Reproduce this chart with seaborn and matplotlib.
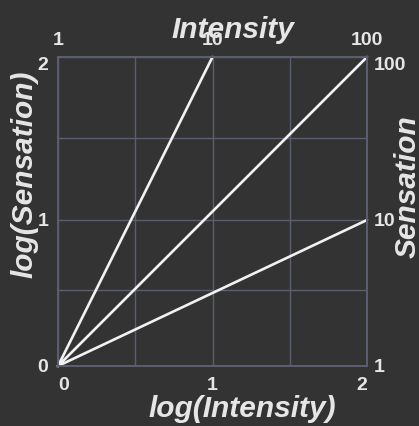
import numpy as np
import pandas as pd
import matplotlib
matplotlib.use("Agg")
import matplotlib.pyplot as plt
import seaborn as sns

# ---- data ----
series = ["steep", "proportional", "shallow"]
log_intensity_start = [0, 0, 0]
log_intensity_end = [1, 2, 2]
log_sensation_start = [0, 0, 0]
log_sensation_end = [2, 2, 1]

tick_values = [0, 1, 2]
log_tick_labels = ["0", "1", "2"]
intensity_labels = ["1", "10", "100"]
sensation_labels = ["1", "10", "100"]
grid_values = [0, 0.5, 1, 1.5, 2]

rows = []
for s, x0, x1, y0, y1 in zip(series, log_intensity_start, log_intensity_end,
                             log_sensation_start, log_sensation_end):
    rows.append({"series": s, "log_intensity": x0, "log_sensation": y0, "order": 0})
    rows.append({"series": s, "log_intensity": x1, "log_sensation": y1, "order": 1})
df = pd.DataFrame(rows)

# ---- the reference's vertical grid spacing is slightly uneven: piecewise scale ----
_gv = np.array(grid_values, dtype=float)
_gp = np.array([0, 76, 146, 228, 309], dtype=float)
_gv_ext = np.concatenate([[-100.0], _gv, [102.0]])
_gp_ext = np.concatenate([[_gp[0] - 100 * (_gp[1] - _gp[0]) / 0.5], _gp,
                          [_gp[-1] + 100 * (_gp[-1] - _gp[-2]) / 0.5]])


def fwd(v):
    return np.interp(np.asarray(v, dtype=float), _gv_ext, _gp_ext)


def inv(v):
    return np.interp(np.asarray(v, dtype=float), _gp_ext, _gv_ext)


# ---- styling ----
BG = "#333333"
GRID = "#5a5e6e"
TXT = "#e6e6e6"
LINE = "#f2f2f2"

sns.set_theme(style="dark")
plt.rcParams["font.family"] = ["Liberation Sans", "DejaVu Sans"]
plt.rcParams["axes.facecolor"] = BG
plt.rcParams["figure.facecolor"] = BG

fig = plt.figure(figsize=(4.19, 4.26), dpi=100)
ax = fig.add_axes([58 / 419, 1 - 366 / 426, 309 / 419, 309 / 426])
ax.set_facecolor(BG)

ax.set_yscale("function", functions=(fwd, inv))

sns.lineplot(data=df, x="log_intensity", y="log_sensation", units="series",
             estimator=None, sort=False, color=LINE, linewidth=1.9, ax=ax,
             legend=False)
for ln in ax.get_lines():
    ln.set_clip_on(False)

ax.set_xlim(0, 2)
ax.set_ylim(0, 2)

ax.set_xticks(grid_values, ["" if v not in tick_values else log_tick_labels[tick_values.index(v)] for v in grid_values])
ax.set_yticks(grid_values, ["" if v not in tick_values else log_tick_labels[tick_values.index(v)] for v in grid_values])
ax.grid(True, color=GRID, linewidth=1.0)
ax.set_axisbelow(True)

ax.tick_params(axis="both", length=0, labelsize=14, labelcolor=TXT)
ax.tick_params(axis="x", pad=8)
ax.tick_params(axis="y", pad=7)
for t in ax.get_xticklabels() + ax.get_yticklabels():
    t.set_fontweight("bold")

for sp in ax.spines.values():
    sp.set_color(GRID)
    sp.set_linewidth(1.1)
    sp.set_visible(True)

# top axis: Intensity
axt = ax.twiny()
axt.set_xlim(0, 2)
axt.set_xticks(tick_values, intensity_labels)
axt.tick_params(axis="x", length=0, labelsize=14, labelcolor=TXT, pad=6)
for t in axt.get_xticklabels():
    t.set_fontweight("bold")

# right axis: Sensation
axr = ax.twinx()
axr.set_yscale("function", functions=(fwd, inv))
axr.set_ylim(0, 2)
axr.set_yticks(tick_values, sensation_labels)
axr.tick_params(axis="y", length=0, labelsize=14, labelcolor=TXT, pad=5)
for t in axr.get_yticklabels():
    t.set_fontweight("bold")

for a in (axt, axr):
    a.grid(False)
    for sp in a.spines.values():
        sp.set_color(GRID)
        sp.set_linewidth(1.1)

# tick label alignment tweaks as in the reference
xl = [t for t in ax.get_xticklabels() if t.get_text()]
xl[0].set_ha("left")
xl[-1].set_ha("right")
yl = [t for t in ax.get_yticklabels() if t.get_text()]
yl[-1].set_va("top")
ryl = axr.get_yticklabels()
ryl[-1].set_va("top")

title_font = dict(fontsize=21.5, fontweight="bold", fontstyle="italic", color=TXT)
ax.set_xlabel("log(Intensity)", **title_font)
ax.xaxis.set_label_coords((242 - 58) / 309, (366 - 395) / 309)
ax.set_ylabel("log(Sensation)", **title_font)
ax.yaxis.set_label_coords((38 - 58) / 309, (366 - 174) / 309)
axt.set_xlabel("Intensity", **title_font)
axt.xaxis.set_label_coords((233 - 58) / 309, (366 - 38) / 309)
axr.set_ylabel("Sensation", **title_font)
axr.yaxis.set_label_coords((394 - 58) / 309, (366 - 187) / 309)

fig.savefig("out.png", dpi=100, facecolor=BG)
